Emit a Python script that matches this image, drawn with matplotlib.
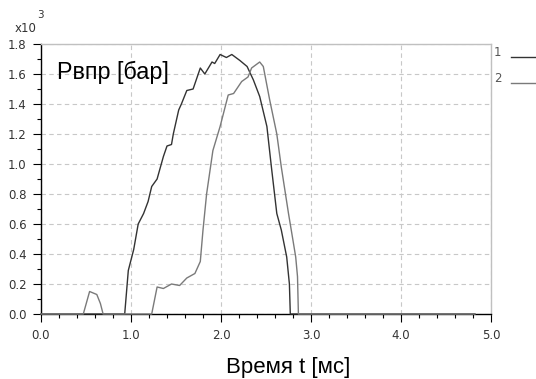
import matplotlib
matplotlib.use("Agg")
import matplotlib.pyplot as plt
from matplotlib.ticker import MultipleLocator, FormatStrFormatter

plt.rcParams['font.family'] = ['Liberation Sans', 'DejaVu Sans']

# Series 1 (dark): time [ms], pressure [x10^3 bar]
t1 = [0.0, 0.93, 0.97, 1.03, 1.08, 1.14, 1.19, 1.23, 1.29, 1.36, 1.40, 1.45, 1.47,
      1.53, 1.56, 1.62, 1.69, 1.77, 1.82, 1.90, 1.93, 1.99, 2.06, 2.12, 2.21, 2.29,
      2.36, 2.43, 2.51, 2.56, 2.62, 2.67, 2.73, 2.76, 2.77, 4.82]
p1 = [0.0, 0.0, 0.29, 0.43, 0.60, 0.67, 0.75, 0.85, 0.90, 1.05, 1.12, 1.13, 1.20,
      1.36, 1.40, 1.49, 1.50, 1.64, 1.60, 1.68, 1.67, 1.73, 1.71, 1.73, 1.69, 1.65,
      1.56, 1.45, 1.25, 0.98, 0.67, 0.56, 0.38, 0.20, 0.0, 0.0]

# Series 2 (gray)
t2 = [0.0, 0.47, 0.54, 0.62, 0.66, 0.69, 1.23, 1.29, 1.36, 1.45, 1.54, 1.62, 1.71,
      1.77, 1.80, 1.84, 1.91, 1.99, 2.08, 2.14, 2.23, 2.30, 2.34, 2.43, 2.47, 2.54,
      2.62, 2.67, 2.75, 2.80, 2.83, 2.85, 2.86, 4.82]
p2 = [0.0, 0.0, 0.15, 0.13, 0.07, 0.0, 0.0, 0.18, 0.17, 0.20, 0.19, 0.24, 0.27,
      0.35, 0.56, 0.80, 1.09, 1.25, 1.46, 1.47, 1.55, 1.58, 1.64, 1.68, 1.65, 1.43,
      1.20, 0.98, 0.67, 0.49, 0.38, 0.25, 0.0, 0.0]

series_labels = ["1", "2"]
colors = ["#333333", "#7a7a7a"]

W, H = 536, 379
fig = plt.figure(figsize=(W / 100, H / 100), dpi=100)
ax = fig.add_axes([41 / W, 1 - 314 / H, 450 / W, 270 / H])

ax.plot(t1, p1, color=colors[0], lw=1.0, zorder=3, clip_on=False)
ax.plot(t2, p2, color=colors[1], lw=1.0, zorder=3, clip_on=False)

ax.set_xlim(0, 5.0)
ax.set_ylim(0, 1.8)
ax.xaxis.set_major_locator(MultipleLocator(1.0))
ax.xaxis.set_minor_locator(MultipleLocator(0.2))
ax.yaxis.set_major_locator(MultipleLocator(0.2))
ax.yaxis.set_minor_locator(MultipleLocator(0.1))
ax.xaxis.set_major_formatter(FormatStrFormatter('%.1f'))
ax.yaxis.set_major_formatter(FormatStrFormatter('%.1f'))

ax.grid(True, which='major', color='#c8c8c8', lw=0.8, linestyle=(0, (4, 3)))
ax.tick_params(which='major', length=5.5, width=0.8, colors='#000000',
               labelcolor='#333333')
ax.tick_params(axis='y', which='major', pad=5)
ax.tick_params(axis='x', which='major', pad=5)
ax.tick_params(which='minor', length=3, width=0.8)
for lbl in ax.get_xticklabels() + ax.get_yticklabels():
    lbl.set_fontfamily('DejaVu Sans')
    lbl.set_fontsize(8.5)
for s in ['top', 'right']:
    ax.spines[s].set_color('#c0c0c0')
    ax.spines[s].set_linewidth(1.0)
for s in ['left', 'bottom']:
    ax.spines[s].set_color('#000000')
    ax.spines[s].set_linewidth(1.0)

ax.text(16 / 450, 1 - 28 / 270, "Рвпр [бар]", transform=ax.transAxes, fontsize=16.8,
        color='#000000', va='center', ha='left', zorder=5)

fig.text(288 / W, 1 - 368 / H, "Время t [мс]", fontsize=16, ha='center', va='center')
fig.text(15 / W, 1 - 28 / H, "x10", fontsize=8.5, family='DejaVu Sans',
         ha='left', va='center', color='#333333')
fig.text(37 / W, 1 - 15 / H, "3", fontsize=7.5, family='DejaVu Sans',
         ha='left', va='center', color='#333333')

# Legend on the right
for lab, c, y in zip(series_labels, colors, [52, 78]):
    fig.text(494 / W, 1 - y / H, lab, fontsize=8.5, family='DejaVu Sans',
             ha='left', va='center', color='#555555')
    fig.add_artist(plt.Line2D([511 / W, 536 / W], [1 - (y + 5) / H, 1 - (y + 5) / H],
                              color=c, lw=1.0, transform=fig.transFigure))

fig.savefig("out.png", dpi=100)
